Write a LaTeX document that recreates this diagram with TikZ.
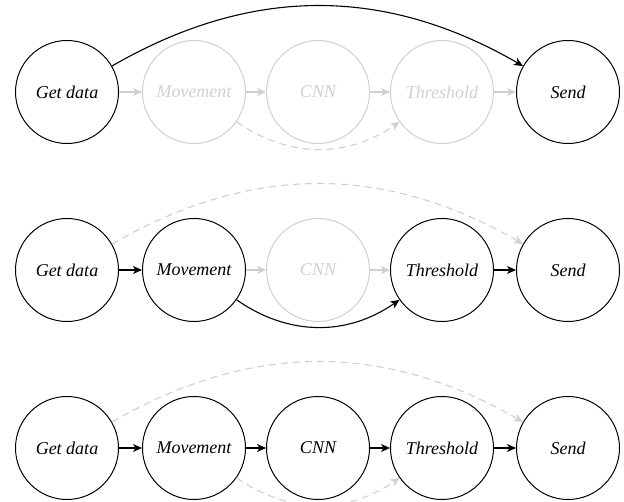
\documentclass[tikz,border=0pt]{standalone}
\usepackage{fontspec}
\setmainfont{Liberation Serif}
\usetikzlibrary{arrows.meta}
\definecolor{faint}{RGB}{208,208,208}
\tikzset{
  stage/.style={circle, draw=black, line width=1pt, minimum size=103pt, inner sep=0pt,
     font=\fontsize{18}{20}\selectfont\itshape, text=black},
  off/.style={draw=faint, text=faint},
  link/.style={line width=1.1pt, -{Stealth[length=9pt,width=8pt,inset=2.5pt]}, draw=black},
  offlink/.style={link, draw=faint},
  skiplink/.style={link, draw=faint, dash pattern=on 7pt off 5pt},
}
\begin{document}
\begin{tikzpicture}[x=1pt,y=-1pt]
\useasboundingbox (0,0) rectangle (624,502);
\clip (0,0) rectangle (624,502);
% row 1
\node[stage] (a1) at (67,92) {Get data};
\node[stage,off] (b1) at (194,92) {Movement};
\node[stage,off] (c1) at (318,92) {CNN};
\node[stage,off] (d1) at (442,92) {Threshold};
\node[stage] (e1) at (568,92) {Send};
\draw[offlink] (a1) -- (b1);
\draw[offlink] (b1) -- (c1);
\draw[offlink] (c1) -- (d1);
\draw[offlink] (d1) -- (e1);
\draw[skiplink] (b1) to[bend right=35] (d1);
\draw[link] (a1) to[bend left=30] (e1);
% row 2
\node[stage] (a2) at (67,270) {Get data};
\node[stage] (b2) at (194,270) {Movement};
\node[stage,off] (c2) at (318,270) {CNN};
\node[stage] (d2) at (442,270) {Threshold};
\node[stage] (e2) at (568,270) {Send};
\draw[link] (a2) -- (b2);
\draw[offlink] (b2) -- (c2);
\draw[offlink] (c2) -- (d2);
\draw[link] (d2) -- (e2);
\draw[skiplink] (a2) to[bend left=30] (e2);
\draw[link] (b2) to[bend right=35] (d2);
% row 3
\node[stage] (a3) at (67,448) {Get data};
\node[stage] (b3) at (194,448) {Movement};
\node[stage] (c3) at (318,448) {CNN};
\node[stage] (d3) at (442,448) {Threshold};
\node[stage] (e3) at (568,448) {Send};
\draw[link] (a3) -- (b3);
\draw[link] (b3) -- (c3);
\draw[link] (c3) -- (d3);
\draw[link] (d3) -- (e3);
\draw[skiplink] (a3) to[bend left=30] (e3);
\draw[skiplink] (b3) to[bend right=35] (d3);
\end{tikzpicture}
\end{document}
